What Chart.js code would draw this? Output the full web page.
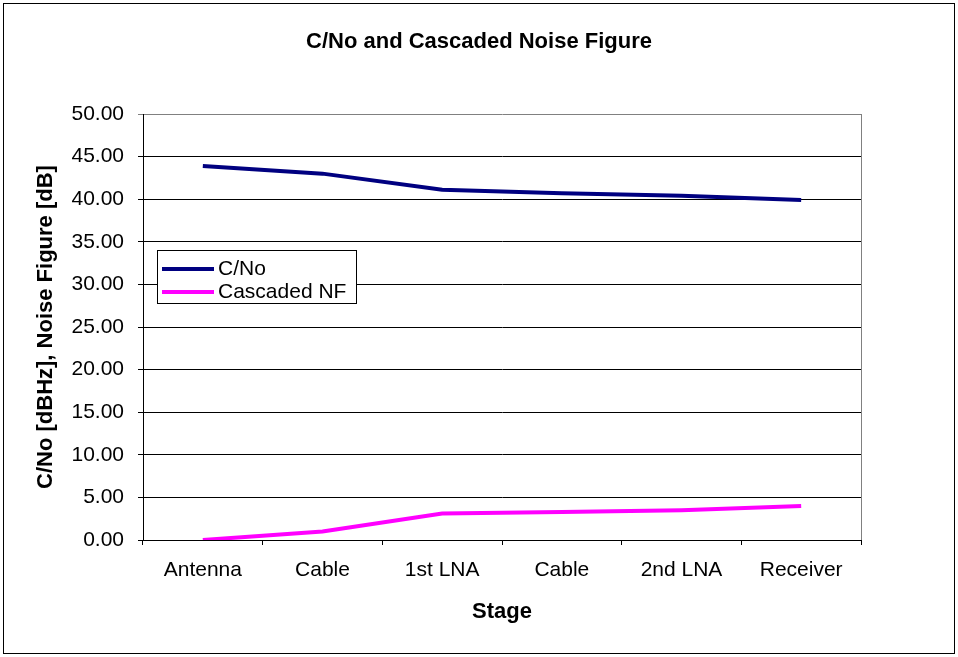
<!DOCTYPE html>
<html>
<head>
<meta charset="utf-8">
<title>C/No and Cascaded Noise Figure</title>
<script src="https://cdn.jsdelivr.net/npm/chart.js@4/dist/chart.umd.min.js"></script>
<style>
  html, body { margin: 0; padding: 0; background: #ffffff; }
  #wrap { position: relative; width: 958px; height: 657px; }
</style>
</head>
<body>
<div id="wrap"><canvas id="chart"></canvas></div>
<script>
// Receiver chain stages
const stages = ['Antenna', 'Cable', '1st LNA', 'Cable', '2nd LNA', 'Receiver'];
// Carrier-to-noise density at each stage [dBHz]
const cnoValues = [43.9, 43.0, 41.1, 40.7, 40.4, 39.9];
// Cascaded noise figure up to each stage [dB]
const cascadedNF = [0.0, 1.0, 3.1, 3.3, 3.5, 4.0];
// Value axis ticks
const yTicks = [0, 5, 10, 15, 20, 25, 30, 35, 40, 45, 50];

const FONT = '"Liberation Sans", Arial, sans-serif';

// Outer frame around the whole chart
const framePlugin = {
  id: 'frame',
  beforeDraw(chart) {
    const ctx = chart.ctx;
    ctx.save();
    ctx.fillStyle = '#ffffff';
    ctx.fillRect(0, 0, chart.width, chart.height);
    ctx.strokeStyle = '#000000';
    ctx.lineWidth = 1;
    ctx.strokeRect(3.5, 3.5, chart.width - 7, chart.height - 7);
    ctx.restore();
  },
  beforeDatasetsDraw(chart) {
    // grey right edge of the plot area
    const a = chart.chartArea;
    const ctx = chart.ctx;
    ctx.save();
    ctx.strokeStyle = '#808080';
    ctx.lineWidth = 1;
    ctx.beginPath();
    ctx.moveTo(Math.round(a.right) + 0.5, a.top);
    ctx.lineTo(Math.round(a.right) + 0.5, a.bottom);
    ctx.stroke();
    ctx.restore();
  }
};

// Boxed legend sitting inside the plot area
const boxLegendPlugin = {
  id: 'boxLegend',
  afterDatasetsDraw(chart) {
    const ctx = chart.ctx;
    const x = 157, y = 250, w = 199, h = 53;
    ctx.save();
    ctx.fillStyle = '#ffffff';
    ctx.fillRect(x, y, w, h);
    ctx.strokeStyle = '#000000';
    ctx.lineWidth = 1;
    ctx.strokeRect(x + 0.5, y + 0.5, w, h);
    ctx.font = '21px ' + FONT;
    ctx.textBaseline = 'middle';
    ctx.textAlign = 'left';
    chart.data.datasets.forEach((ds, i) => {
      const cy = y + 19 + i * 23;
      ctx.strokeStyle = ds.borderColor;
      ctx.lineWidth = ds.borderWidth;
      ctx.beginPath();
      ctx.moveTo(x + 5, cy);
      ctx.lineTo(x + 57, cy);
      ctx.stroke();
      ctx.fillStyle = '#000000';
      ctx.fillText(ds.label, x + 61, cy);
    });
    ctx.restore();
  }
};

new Chart(document.getElementById('chart'), {
  type: 'line',
  data: {
    labels: stages,
    datasets: [
      {
        label: 'C/No',
        data: cnoValues,
        borderColor: '#000080',
        backgroundColor: '#000080',
        borderWidth: 4,
        pointRadius: 0,
        tension: 0,
        fill: false
      },
      {
        label: 'Cascaded NF',
        data: cascadedNF,
        borderColor: '#FF00FF',
        backgroundColor: '#FF00FF',
        borderWidth: 4,
        pointRadius: 0,
        tension: 0,
        fill: false
      }
    ]
  },
  options: {
    responsive: true,
    maintainAspectRatio: false,
    animation: false,
    events: [],
    layout: { padding: 0 },
    plugins: {
      legend: { display: false },
      tooltip: { enabled: false },
      title: {
        display: true,
        text: 'C/No and Cascaded Noise Figure',
        color: '#000000',
        font: { family: FONT, size: 22, weight: 'bold', lineHeight: 1.2 },
        padding: { top: 29, bottom: 58.6 }
      }
    },
    scales: {
      x: {
        type: 'category',
        offset: true,
        border: { display: true, color: '#000000', width: 1 },
        grid: {
          offset: true,
          drawOnChartArea: false,
          drawTicks: true,
          tickLength: 5,
          color: '#000000'
        },
        ticks: {
          color: '#000000',
          padding: 13,
          maxRotation: 0,
          autoSkip: false,
          font: { family: FONT, size: 21 }
        },
        title: {
          display: true,
          text: 'Stage',
          color: '#000000',
          font: { family: FONT, size: 22, weight: 'bold', lineHeight: 1.2 },
          padding: { top: 0, bottom: 32 }
        },
        afterFit(scale) { scale.height = 117; }
      },
      y: {
        min: 0,
        max: 50,
        border: { display: true, color: '#000000', width: 1 },
        grid: {
          drawTicks: true,
          tickLength: 5,
          color: (c) => (c.tick && c.tick.value === 50 ? '#808080' : '#000000'),
          lineWidth: 1
        },
        afterBuildTicks(scale) {
          scale.ticks = yTicks.map(v => ({ value: v }));
        },
        ticks: {
          color: '#000000',
          padding: 14,
          font: { family: FONT, size: 21 },
          callback: (v) => Number(v).toFixed(2)
        },
        title: {
          display: true,
          text: 'C/No [dBHz], Noise Figure [dB]',
          color: '#000000',
          font: { family: FONT, size: 22, weight: 'bold', lineHeight: 1.2 },
          padding: { top: 33, bottom: 0 }
        },
        afterFit(scale) { scale.width = 143; }
      },
      // empty right-hand margin so the title stays centred on the page
      margin: {
        type: 'linear',
        position: 'right',
        display: true,
        min: 0,
        max: 50,
        border: { display: false },
        grid: { display: false },
        ticks: { display: false },
        afterFit(scale) { scale.width = 97; }
      }
    }
  },
  plugins: [framePlugin, boxLegendPlugin]
});
</script>
</body>
</html>
